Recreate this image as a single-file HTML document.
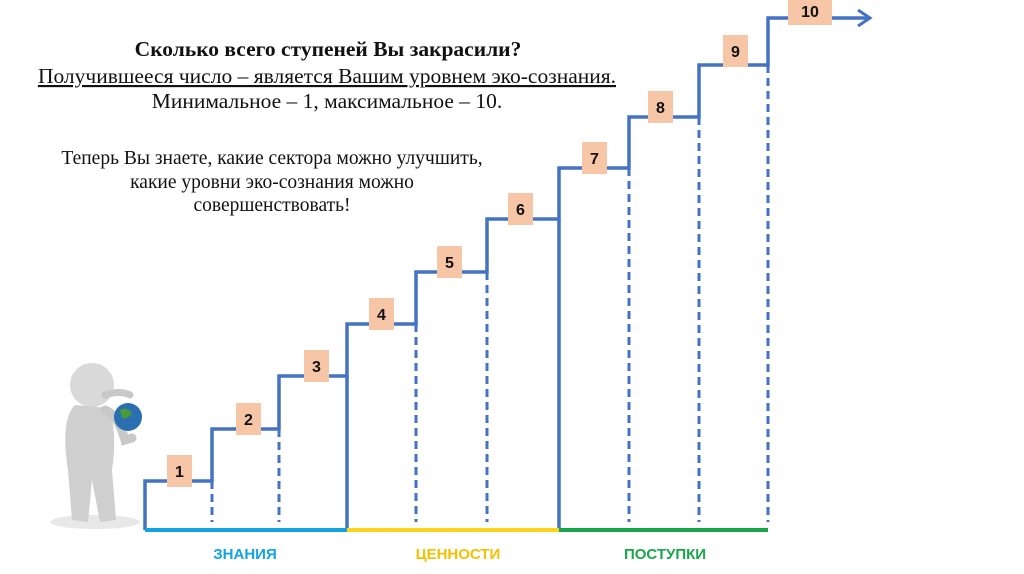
<!DOCTYPE html>
<html><head><meta charset="utf-8"><style>
body{margin:0;background:#fff;}
svg{display:block}
</style></head><body>
<svg width="1024" height="574" viewBox="0 0 1024 574" xmlns="http://www.w3.org/2000/svg">
<g font-family="Liberation Serif, serif" fill="#111" text-anchor="middle">
<text x="328" y="56" font-size="21.5" font-weight="bold">Сколько всего ступеней Вы закрасили?</text>
<text x="327" y="83" font-size="21.5" text-decoration="underline">Получившееся число – является Вашим уровнем эко-сознания.</text>
<text x="327" y="108" font-size="21.5">Минимальное – 1, максимальное – 10.</text>
<text x="272" y="164" font-size="19.5">Теперь Вы знаете, какие сектора можно улучшить,</text>
<text x="272" y="188" font-size="19.5">какие уровни эко-сознания можно</text>
<text x="272" y="211" font-size="19.5">совершенствовать!</text>
</g>
<g stroke="#4472c4" stroke-width="3.5" fill="none">
<path d="M145 530 V481 H212 V429 H279 V376 H347 V324 H416 V272 H487 V219 H559 V168 H629 V117 H699 V65 H768 V18 H868"/>
<path d="M347 376 V530 M559 219 V530"/>
<path d="M858 10 L870 18 L858 26" stroke-width="3"/>
</g>
<g stroke="#4472c4" stroke-width="3" stroke-dasharray="8,5" fill="none">
<path d="M212 481 V522 M279 429 V522 M416 324 V522 M487 272 V522 M629 168 V522 M699 117 V522 M768 65 V522"/>
</g>
<line x1="145" y1="530" x2="347" y2="530" stroke="#12a3e3" stroke-width="4"/>
<line x1="347" y1="530" x2="559" y2="530" stroke="#ffd51c" stroke-width="4"/>
<line x1="559" y1="530" x2="768" y2="530" stroke="#1aa64a" stroke-width="4"/>
<g fill="#f6c6a6">
<rect x="167" y="455" width="25" height="32"/>
<rect x="236" y="403" width="25" height="32"/>
<rect x="304" y="350" width="25" height="32"/>
<rect x="369" y="298" width="25" height="32"/>
<rect x="437" y="246" width="25" height="32"/>
<rect x="508" y="193" width="25" height="32"/>
<rect x="582" y="142" width="25" height="32"/>
<rect x="648" y="91" width="25" height="32"/>
<rect x="723" y="35" width="25" height="32"/>
<rect x="788" y="0" width="44" height="25"/>
</g>
<g font-family="Liberation Sans, sans-serif" font-weight="bold" font-size="16" fill="#111" text-anchor="middle">
<text x="179.5" y="477">1</text><text x="248.5" y="425">2</text><text x="316.5" y="372">3</text>
<text x="381.5" y="320">4</text><text x="449.5" y="268">5</text><text x="520.5" y="215">6</text>
<text x="594.5" y="164">7</text><text x="660.5" y="113">8</text><text x="735.5" y="57">9</text>
<text x="810" y="17">10</text>
</g>
<g font-family="Liberation Sans, sans-serif" font-weight="bold" font-size="15" text-anchor="middle">
<text x="245" y="559" fill="#12a3e3">ЗНАНИЯ</text>
<text x="458" y="559" fill="#f5c000">ЦЕННОСТИ</text>
<text x="665" y="559" fill="#1aa64a">ПОСТУПКИ</text>
</g>
<g>
<ellipse cx="95" cy="522" rx="45" ry="7" fill="#e8e8e8"/>
<circle cx="92" cy="385" r="22" fill="#d9d9d9"/>
<path d="M75 405 Q60 420 68 470 L72 520 L88 522 L92 480 L100 522 L116 520 L112 470 Q118 430 108 408 Z" fill="#cfcfcf"/>
<path d="M105 410 Q118 415 125 440 L132 438" stroke="#c8c8c8" stroke-width="9" fill="none" stroke-linecap="round"/>
<path d="M105 395 Q120 390 130 395" stroke="#c8c8c8" stroke-width="7" fill="none" stroke-linecap="round"/>
<circle cx="128" cy="417" r="14" fill="#2a6fb0"/>
<path d="M120 410 Q128 406 132 414 Q126 420 122 418 Z" fill="#4a9a3a"/>
</g>
</svg>
</body></html>
